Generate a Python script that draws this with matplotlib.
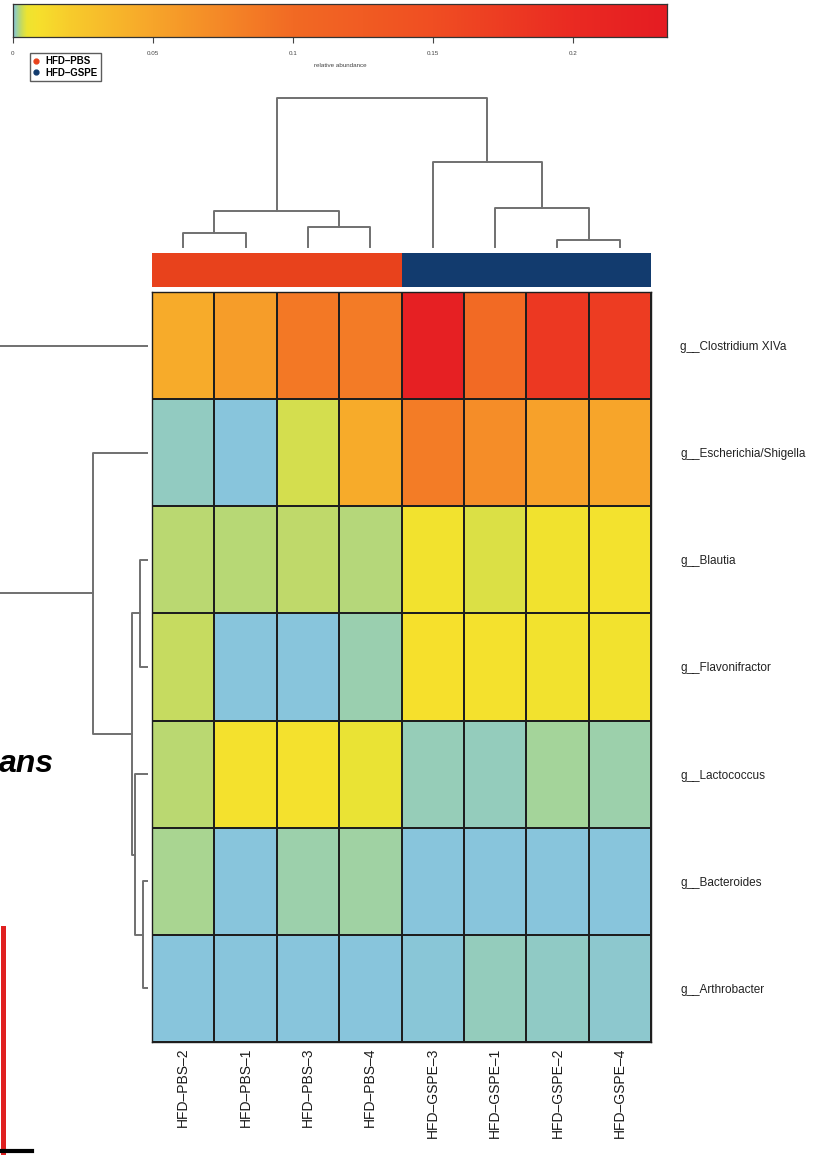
import numpy as np
import matplotlib
matplotlib.use("Agg")
import matplotlib.pyplot as plt
from matplotlib.colors import LinearSegmentedColormap
from matplotlib.lines import Line2D

plt.rcParams['font.family'] = ['Liberation Sans', 'DejaVu Sans']

W, H = 818, 1155

# data
genera = ["g__Clostridium XIVa", "g__Escherichia/Shigella", "g__Blautia",
          "g__Flavonifractor", "g__Lactococcus", "g__Bacteroides", "g__Arthrobacter"]
samples = ["HFD–PBS–2", "HFD–PBS–1", "HFD–PBS–3", "HFD–PBS–4",
           "HFD–GSPE–3", "HFD–GSPE–1", "HFD–GSPE–2", "HFD–GSPE–4"]
groups = ["HFD–PBS"] * 4 + ["HFD–GSPE"] * 4

clostridium = [0.045, 0.057, 0.088, 0.086, 0.225, 0.100, 0.180, 0.175]
escherichia = [0.0007, 0.0001, 0.0036, 0.045, 0.085, 0.070, 0.053, 0.050]
blautia = [0.0025, 0.0024, 0.0027, 0.0023, 0.0070, 0.0040, 0.0066, 0.0075]
flavonifractor = [0.0030, 0.0001, 0.0001, 0.0011, 0.0090, 0.0080, 0.0072, 0.0070]
lactococcus = [0.0025, 0.0080, 0.0082, 0.0048, 0.0009, 0.0008, 0.0016, 0.0012]
bacteroides = [0.0018, 0.0001, 0.0012, 0.0014, 0.0001, 0.0001, 0.0001, 0.0001]
arthrobacter = [0.0001, 0.0001, 0.0001, 0.0001, 0.0002, 0.0008, 0.0006, 0.0004]
abund = np.array([clostridium, escherichia, blautia, flavonifractor,
                  lactococcus, bacteroides, arthrobacter])

# dendrograms: (left, right, height)
col_merges = [(0, 1, 14), (2, 3, 20), (8, 9, 36), (6, 7, 7),
              (5, 11, 39), (4, 12, 85), (10, 13, 149)]
row_merges = [(2, 3, 8), (5, 6, 5), (4, 8, 13), (7, 9, 16), (1, 10, 55), (0, 11, 178)]

cbar_ticks = [0, 0.05, 0.1, 0.15, 0.2]
cbar_labels = ["0", "0.05", "0.1", "0.15", "0.2"]
cbar_max = 0.2337

cmap_stops = [(0.0, '#86c4e0'), (0.0008, '#94ccbc'), (0.0016, '#a4d49a'),
              (0.0025, '#bad870'), (0.0035, '#d2de50'), (0.005, '#eee430'),
              (0.009, '#f6e02c'), (0.02, '#f8cc2c'), (0.05, '#f7a52a'),
              (0.1, '#f26a24'), (0.15, '#f04e22'), (0.2, '#ea2a22'),
              (cbar_max, '#e51c23')]
group_colors = {"HFD–PBS": "#e8421c", "HFD–GSPE": "#123b6e"}
line_col = '#707070'

cmap = LinearSegmentedColormap.from_list(
    "abund", [(v / cbar_max, c) for v, c in cmap_stops], N=20000)


def box(x0, y0, x1, y1):
    return [x0 / W, 1 - y1 / H, (x1 - x0) / W, (y1 - y0) / H]


def dendro_segments(merges, n):
    pos = {i: i + 0.5 for i in range(n)}
    hgt = {i: 0.0 for i in range(n)}
    segs = []
    for k, (a, b, h) in enumerate(merges):
        segs.append(([pos[a], pos[a], pos[b], pos[b]], [hgt[a], h, h, hgt[b]]))
        pos[n + k] = (pos[a] + pos[b]) / 2
        hgt[n + k] = h
    return segs


fig = plt.figure(figsize=(W / 100, H / 100), dpi=100)

# heatmap
ax = fig.add_axes(box(152, 292, 651, 1042))
ax.pcolormesh(abund, cmap=cmap, vmin=0, vmax=cbar_max,
              edgecolors='#1e1e1e', linewidth=1.3)
ax.set_xlim(0, 8)
ax.set_ylim(7, 0)
ax.yaxis.tick_right()
ax.set_yticks(np.arange(7) + 0.5)
ax.set_yticklabels(genera, fontsize=8.5, color='#222222')
ax.set_xticks(np.arange(8) + 0.5)
ax.set_xticklabels(samples, rotation=90, fontsize=10, color='#1a1a1a')
ax.tick_params(length=0)
ax.tick_params(axis='y', pad=21)
ax.tick_params(axis='x', pad=4)
for s in ax.spines.values():
    s.set_color('#1e1e1e')
    s.set_linewidth(1.0)

# annotation bar
ax_an = fig.add_axes(box(152, 253, 651, 287))
ax_an.bar(np.arange(8) + 0.5, 1, width=1.0,
          color=[group_colors[g] for g in groups], edgecolor='none')
ax_an.set_xlim(0, 8)
ax_an.set_ylim(0, 1)
ax_an.axis('off')

# column dendrogram
ax_cd = fig.add_axes(box(152, 97, 651, 247))
for xs, ys in dendro_segments(col_merges, 8):
    ax_cd.plot(xs, ys, color=line_col, lw=1.4, clip_on=False)
ax_cd.set_xlim(0, 8)
ax_cd.set_ylim(0, 150)
ax_cd.axis('off')

# row dendrogram
ax_rd = fig.add_axes(box(0, 292, 148, 1042))
for xs, ys in dendro_segments(row_merges, 7):
    ax_rd.plot(ys, xs, color=line_col, lw=1.4)
ax_rd.set_xlim(148, 0)
ax_rd.set_ylim(7, 0)
ax_rd.axis('off')

# colour bar
ax_cb = fig.add_axes(box(12.7, 4, 667, 37))
grad = np.linspace(0, cbar_max, 2000)[None, :]
ax_cb.imshow(grad, cmap=cmap, vmin=0, vmax=cbar_max, aspect='auto',
             extent=[0, cbar_max, 0, 1], interpolation='bilinear')
ax_cb.set_yticks([])
ax_cb.set_xticks(cbar_ticks)
ax_cb.set_xticklabels(cbar_labels, fontsize=4.5, color='#444444')
ax_cb.tick_params(axis='x', length=4, width=0.8, color='#444444', pad=6)
ax_cb.set_xlabel("relative abundance", fontsize=4.5, color='#444444', labelpad=5)
for s in ax_cb.spines.values():
    s.set_color('#333333')
    s.set_linewidth(0.9)

# group legend
handles = [Line2D([], [], marker='o', ls='none', markersize=3.5,
                  color=group_colors[g]) for g in ["HFD–PBS", "HFD–GSPE"]]
fig.legend(handles, ["HFD–PBS", "HFD–GSPE"], loc='upper left',
           bbox_to_anchor=(30 / W, 1 - 53 / H), frameon=True, fancybox=False,
           edgecolor='#333333', prop={'weight': 'bold', 'size': 7},
           handlelength=0.6, handletextpad=0.6, borderpad=0.35,
           labelspacing=0.15, borderaxespad=0)

# fragments of the neighbouring panel
fig.text(54 / W, 1 - 772 / H, "ans", ha='right', va='baseline',
         fontsize=23, style='italic', weight='bold')
fig.add_artist(Line2D([2.5 / W, 2.5 / W], [1 - 928 / H, 1 - 1155 / H],
                      color='#e02020', lw=3.6))
fig.add_artist(Line2D([0, 32 / W], [1 - 1151 / H, 1 - 1151 / H],
                      color='black', lw=3))

fig.savefig("out.png", dpi=100)
